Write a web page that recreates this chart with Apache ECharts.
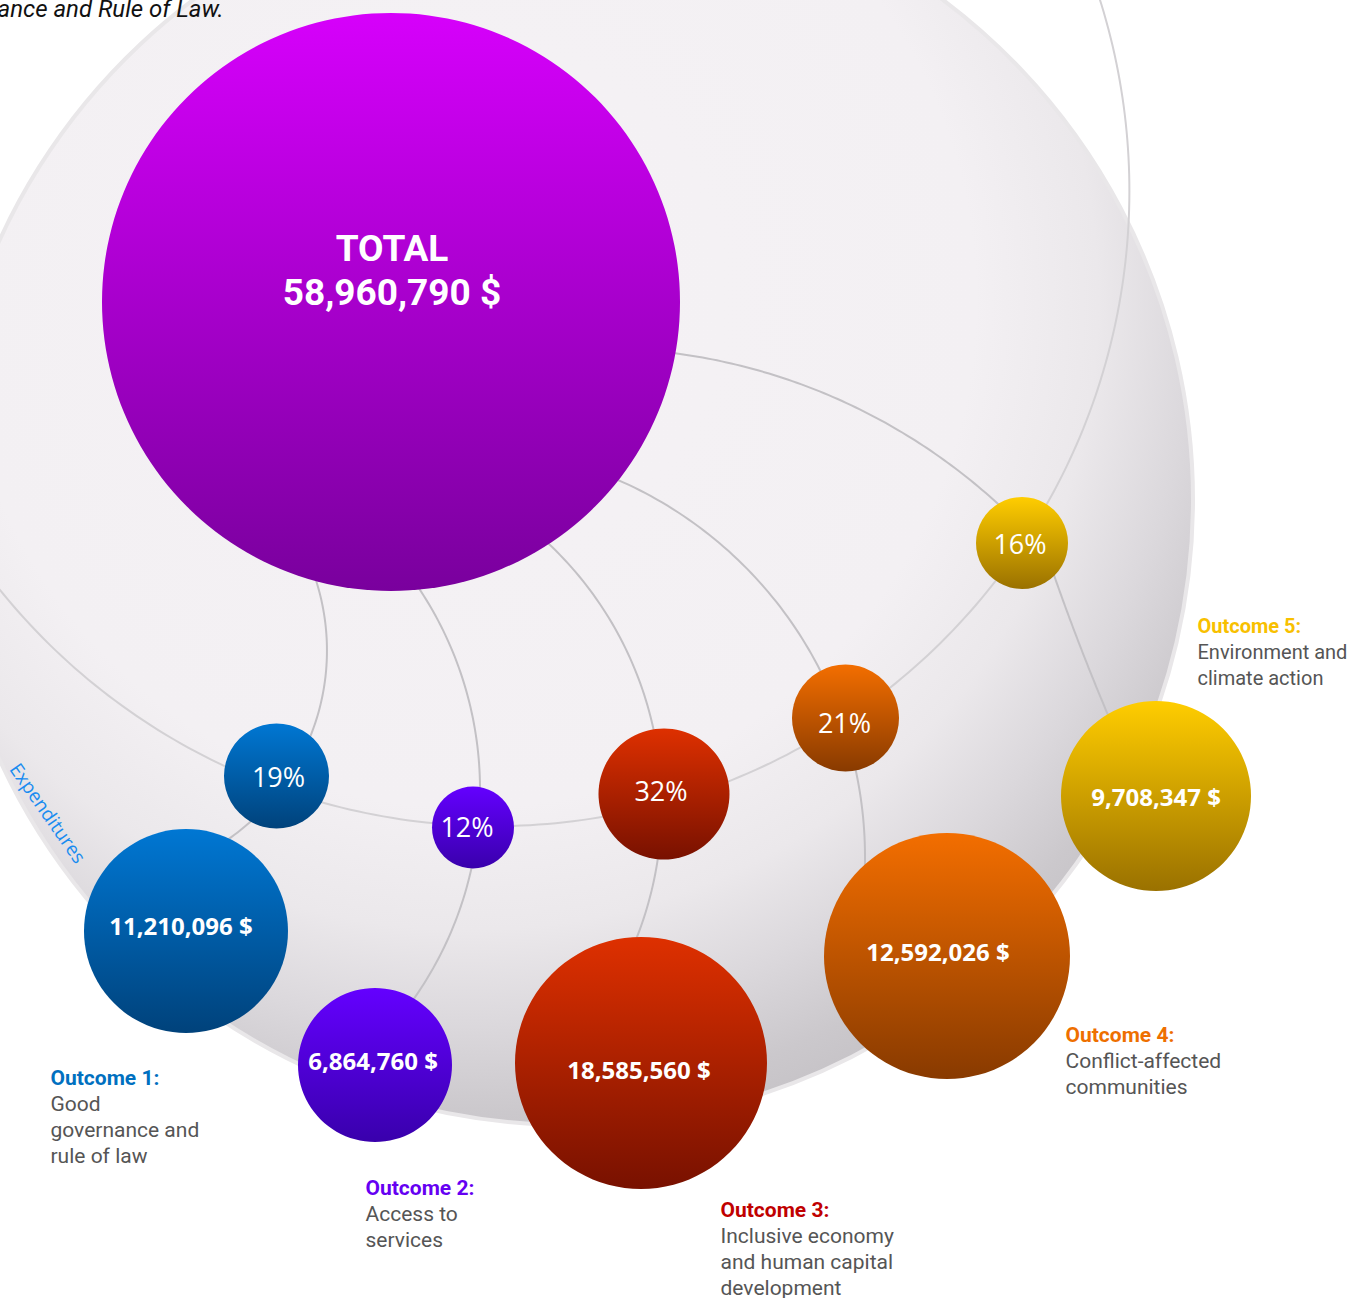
<!DOCTYPE html>
<html><head><meta charset="utf-8">
<script src="https://cdn.jsdelivr.net/npm/echarts@6/dist/echarts.min.js"></script>
<style>html,body{margin:0;padding:0;background:#fff;overflow:hidden}#c{width:1355px;height:1298px}</style>
</head><body><div id="c"></div>
<script>
// ---------------- data ----------------
const headerFragment = 'ance and Rule of Law.';
const totalLabel = 'TOTAL';
const totalAmount = 58960790;
const sphereLabel = 'Expenditures';
const outcomeTitles = ['Outcome 1:', 'Outcome 2:', 'Outcome 3:', 'Outcome 4:', 'Outcome 5:'];
const outcomeDescriptions = [
  ['Good', 'governance and', 'rule of law'],
  ['Access to', 'services'],
  ['Inclusive economy', 'and human capital', 'development'],
  ['Conflict-affected', 'communities'],
  ['Environment and', 'climate action']
];
const outcomeAmounts = [11210096, 6864760, 18585560, 12592026, 9708347];
const outcomeShares = [19, 12, 32, 21, 16];

// ---------------- layout (plot space = 1355 x 1298) ----------------
const W = 1355, H = 1298;
const spherePos = [568, 500], sphereSize = 1250;
const totalPos = [391, 302], totalSize = 578, totalLabelOffset = [1, -32];
const sharePos = [[276.5, 776], [473, 827.5], [664, 794], [845.5, 718], [1022, 543]];
const shareSize = [105, 82, 131, 107, 92];
const shareLabelOffset = [[2, 0], [-6, -1], [-3, -4], [-1, 4], [-2, 0]];
const amountPos = [[186, 931], [375, 1065], [641, 1063], [947, 956], [1156, 796]];
const amountSize = [204, 154, 252, 246, 190];
const amountLabelOffset = [[-5, -6], [-2, -5], [-2, 6], [-9, -5], [0, 0]];
const labelPos = [[51, 1065], [366, 1175], [721, 1197], [1066, 1022], [1198, 613]];
const labelFontSize = [21, 21, 21, 21, 20];
const headerPos = [-2, 9];
const sphereLabelPos = [48, 813];
const meridianGuides = [
  [[318, 587], [323, 693], [230, 838]],
  [[422, 593], [480, 786], [413, 1000]],
  [[550, 545], [653, 727], [637, 937]],
  [[618, 480], [820, 670], [865, 860]],
  [[673, 353], [833, 397], [997, 503]],
  [[1055, 578], [1077, 638], [1108, 715]]
];
const latitudeGuide = [[0, 590], [480, 826], [1100, 0]];

// ---------------- styles ----------------
const topColors = ['#0077d3', '#6400ff', '#de3000', '#f36e00', '#ffcd00'];
const bottomColors = ['#00427b', '#3900ac', '#781100', '#883a00', '#9a7100'];
const titleColors = ['#0070c0', '#6500f2', '#c00000', '#ee6f00', '#f8c000'];

function vgrad(a, b) {
  return { type: 'linear', x: 0, y: 0, x2: 0, y2: 1, colorStops: [{ offset: 0, color: a }, { offset: 1, color: b }] };
}
function fmt(v) { return v.toLocaleString('en-US') + ' $'; }

function arcThrough(p0, p1, p2, ext, n) {
  const [x1, y1] = p0, [x2, y2] = p1, [x3, y3] = p2;
  const d = 2 * (x1 * (y2 - y3) + x2 * (y3 - y1) + x3 * (y1 - y2));
  const s1 = x1 * x1 + y1 * y1, s2 = x2 * x2 + y2 * y2, s3 = x3 * x3 + y3 * y3;
  const ux = (s1 * (y2 - y3) + s2 * (y3 - y1) + s3 * (y1 - y2)) / d;
  const uy = (s1 * (x3 - x2) + s2 * (x1 - x3) + s3 * (x2 - x1)) / d;
  const r = Math.hypot(x1 - ux, y1 - uy);
  const TAU = Math.PI * 2;
  const norm = a => ((a % TAU) + TAU) % TAU;
  const a0 = Math.atan2(y1 - uy, x1 - ux);
  const a1 = Math.atan2(y2 - uy, x2 - ux);
  const a2 = Math.atan2(y3 - uy, x3 - ux);
  const q1 = norm(a1 - a0), q2 = norm(a2 - a0);
  const sweep = q1 < q2 ? q2 : q2 - TAU;
  const e = (ext / r) * Math.sign(sweep);
  const start = a0 - e, span = sweep + 2 * e;
  const pts = [];
  for (let i = 0; i <= n; i++) {
    const a = start + span * i / n;
    pts.push([ux + r * Math.cos(a), uy + r * Math.sin(a)]);
  }
  return pts;
}

const meridianLines = meridianGuides.map(g => ({ coords: arcThrough(g[0], g[1], g[2], 14, 80) }));
const latitudeLine = [{ coords: arcThrough(latitudeGuide[0], latitudeGuide[1], latitudeGuide[2], 160, 240) }];

const chart = echarts.init(document.getElementById('c'), null, { renderer: 'svg', width: W, height: H });

const shareData = outcomeShares.map((s, i) => ({
  value: sharePos[i],
  symbolSize: shareSize[i],
  itemStyle: { color: vgrad(topColors[i], bottomColors[i]), opacity: 1 },
  label: { formatter: s + '%', offset: shareLabelOffset[i] }
}));
const amountData = outcomeAmounts.map((v, i) => ({
  value: amountPos[i],
  symbolSize: amountSize[i],
  itemStyle: { color: vgrad(topColors[i], bottomColors[i]), opacity: 1 },
  label: { formatter: fmt(v), offset: amountLabelOffset[i] }
}));
const outcomeLabelData = outcomeTitles.map((t, i) => ({
  value: labelPos[i],
  label: {
    formatter: ['{t|' + t + '}'].concat(outcomeDescriptions[i].map(l => '{d|' + l + '}')).join('\n'),
    rich: {
      t: { fontFamily: 'Roboto', fontWeight: 'bold', fontSize: labelFontSize[i], lineHeight: 26, color: titleColors[i] },
      d: { fontFamily: 'Roboto', fontSize: labelFontSize[i], lineHeight: 26, color: '#555555' }
    }
  }
}));

chart.setOption({
  animation: false,
  backgroundColor: '#ffffff',
  grid: { left: 0, right: 0, top: 0, bottom: 0 },
  xAxis: { type: 'value', min: 0, max: W, show: false },
  yAxis: { type: 'value', min: 0, max: H, inverse: true, show: false },
  series: [
    {
      type: 'scatter', silent: true, clip: false, z: 1,
      data: [{ value: spherePos, symbolSize: sphereSize }],
      itemStyle: {
        opacity: 1,
        color: {
          type: 'radial', x: 0.42, y: 0.34, r: 0.7,
          colorStops: [
            { offset: 0, color: '#f5f2f5' },
            { offset: 0.58, color: '#f3f0f3' },
            { offset: 0.72, color: '#ebe8eb' },
            { offset: 0.83, color: '#dbd8dc' },
            { offset: 0.93, color: '#cbc8cc' },
            { offset: 1, color: '#c4c1c5' }
          ]
        },
        borderColor: '#e9e7e9', borderWidth: 4
      }
    },
    {
      type: 'lines', coordinateSystem: 'cartesian2d', polyline: true, silent: true, z: 2,
      data: latitudeLine,
      lineStyle: { color: '#d3d1d4', width: 2, opacity: 1 }
    },
    {
      type: 'lines', coordinateSystem: 'cartesian2d', polyline: true, silent: true, z: 2,
      data: meridianLines,
      lineStyle: { color: '#c3c1c5', width: 2, opacity: 1 }
    },
    {
      type: 'scatter', silent: true, clip: false, z: 3,
      data: [{ value: totalPos, symbolSize: totalSize }],
      itemStyle: { color: vgrad('#d600fb', '#79009d'), opacity: 1 },
      label: {
        show: true, position: 'inside', offset: totalLabelOffset,
        formatter: '{a|' + totalLabel + '}\n{a|' + fmt(totalAmount) + '}',
        rich: { a: { fontFamily: 'Roboto', fontWeight: 'bold', fontSize: 37, lineHeight: 44, color: '#ffffff', align: 'center' } }
      }
    },
    {
      type: 'scatter', silent: true, clip: false, z: 4,
      data: shareData,
      label: { show: true, position: 'inside', color: '#ffffff', fontFamily: 'Open Sans', fontSize: 27 }
    },
    {
      type: 'scatter', silent: true, clip: false, z: 4,
      data: amountData,
      label: { show: true, position: 'inside', color: '#ffffff', fontFamily: 'Open Sans', fontWeight: 'bold', fontSize: 24 }
    },
    {
      type: 'scatter', silent: true, clip: false, z: 5,
      symbolSize: 1, itemStyle: { color: 'rgba(0,0,0,0)', opacity: 1 },
      data: outcomeLabelData,
      label: { show: true, opacity: 1, position: [0, 0], align: 'left', verticalAlign: 'top' }
    },
    {
      type: 'scatter', silent: true, clip: false, z: 5,
      symbolSize: 1, itemStyle: { color: 'rgba(0,0,0,0)', opacity: 1 },
      data: [
        { value: headerPos, label: { formatter: headerFragment, position: [0, 0], align: 'left', verticalAlign: 'middle', fontFamily: 'Roboto', fontStyle: 'italic', fontSize: 24, color: '#111111' } },
        { value: sphereLabelPos, label: { formatter: sphereLabel, position: 'inside', rotate: -55, fontFamily: 'Open Sans', fontSize: 19, color: '#1a8cf0' } }
      ],
      label: { show: true, opacity: 1 }
    }
  ]
});
</script>
</body></html>
